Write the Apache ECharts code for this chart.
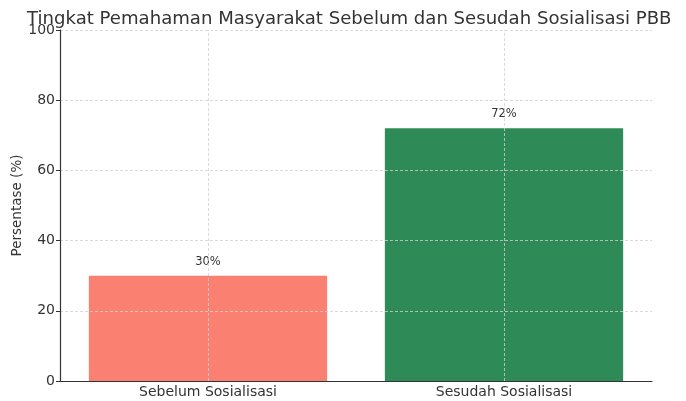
<!DOCTYPE html>
<html>
<head>
<meta charset="utf-8">
<script src="https://cdn.jsdelivr.net/npm/echarts@6/dist/echarts.min.js"></script>
<style>
  html, body { margin: 0; padding: 0; background: #fff; }
  #chart { width: 686px; height: 401px; }
</style>
</head>
<body>
<div id="chart"></div>
<script>
var categories = ['Sebelum Sosialisasi', 'Sesudah Sosialisasi'];
var values = [30, 72];
var barColors = ['#FA8072', '#2E8B57'];
var yTicks = [0, 20, 40, 60, 80, 100];

var myChart = echarts.init(document.getElementById('chart'));
var font = 'DejaVu Sans';
var dash = { color: '#d0d0d0', type: [3, 2], width: 0.8 };

var option = {
  animation: false,
  title: {
    text: 'Tingkat Pemahaman Masyarakat Sebelum dan Sesudah Sosialisasi PBB',
    left: 22,
    top: 5,
    textStyle: { fontFamily: font, fontSize: 18.1, fontWeight: 'normal', color: '#333' }
  },
  grid: { left: 60, right: 34, top: 30, bottom: 20, outerBoundsMode: 'none', containLabel: false },
  xAxis: {
    type: 'category',
    data: categories,
    z: 5,
    axisLine: { lineStyle: { color: '#333', width: 1.2 } },
    axisTick: { show: false },
    axisLabel: { fontFamily: font, fontSize: 14, color: '#333', margin: 4 },
    splitLine: { show: false }
  },
  yAxis: {
    type: 'value',
    min: yTicks[0],
    max: yTicks[yTicks.length - 1],
    interval: 20,
    z: 5,
    name: 'Persentase (%)',
    nameLocation: 'middle',
    nameGap: 36,
    nameMoveOverlap: false,
    nameTextStyle: { fontFamily: font, fontSize: 13.5, color: '#333' },
    axisLine: { show: true, lineStyle: { color: '#333', width: 1.2 } },
    axisTick: { show: true, length: 4, lineStyle: { color: '#333' } },
    axisLabel: { fontFamily: font, fontSize: 14, color: '#333', margin: 5 },
    splitLine: { show: true, lineStyle: dash }
  },
  series: [{
    type: 'bar',
    barWidth: '80.5%',
    data: values.map(function (v, i) {
      return { value: v, itemStyle: { color: barColors[i] } };
    }),
    label: {
      show: true,
      position: 'top',
      distance: 8,
      formatter: '{c}%',
      fontFamily: font,
      fontSize: 11.5,
      color: '#333'
    },
    markLine: {
      silent: true,
      symbol: 'none',
      label: { show: false },
      lineStyle: dash,
      data: categories.map(function (c) { return { xAxis: c }; })
    }
  }]
};
myChart.setOption(option);
</script>
</body>
</html>
